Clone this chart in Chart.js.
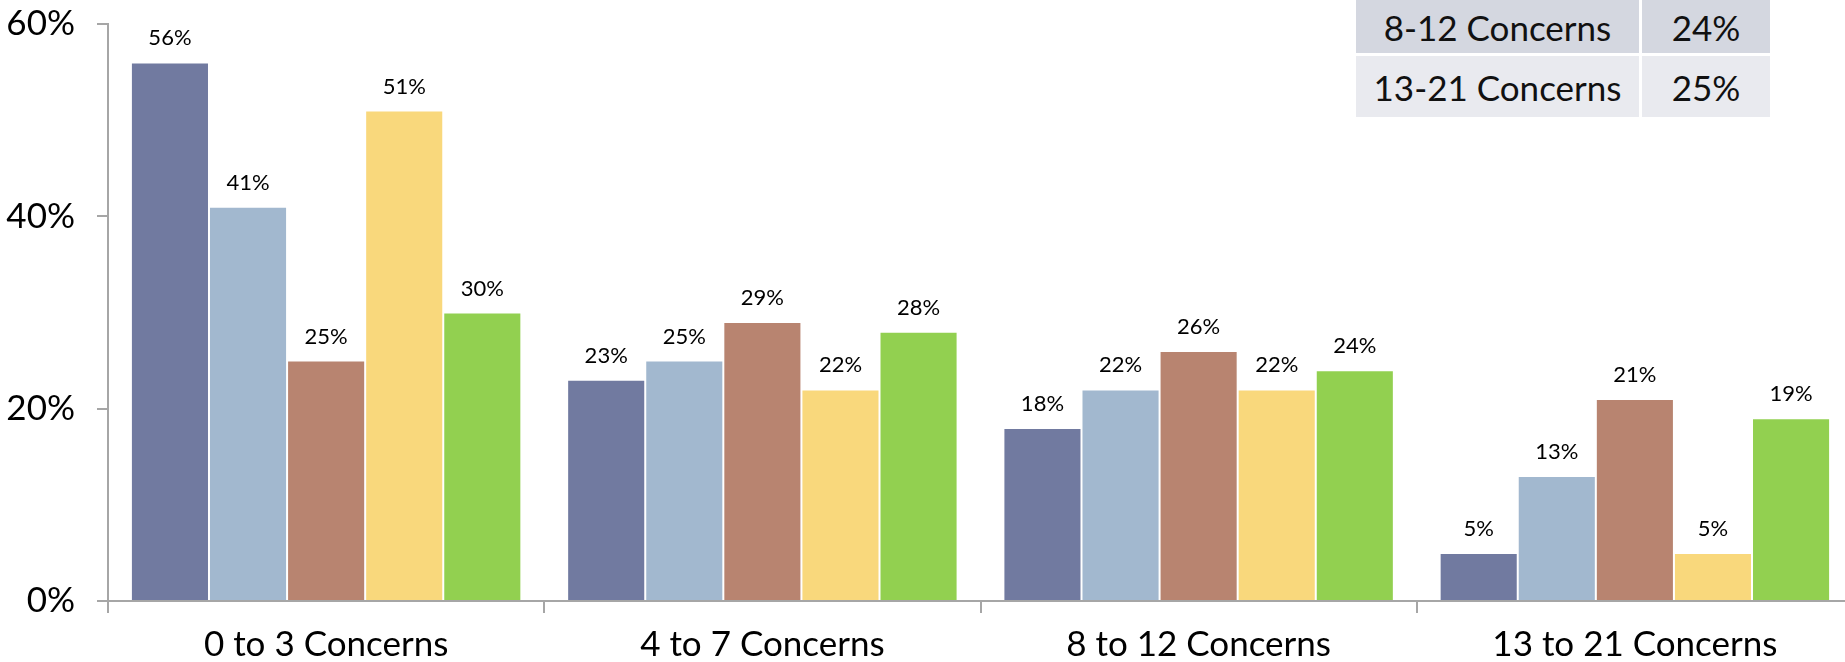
<!DOCTYPE html>
<html>
<head>
<meta charset="utf-8">
<script src="https://cdn.jsdelivr.net/npm/chart.js@4/dist/chart.umd.min.js"></script>
<style>
  html, body { margin: 0; padding: 0; background: #fff; overflow: hidden; }
  #wrap { position: relative; width: 1854px; height: 662px; }
  .cell {
    position: absolute;
    font-family: Lato, "Open Sans", sans-serif;
    font-size: 35px;
    color: #111;
    display: flex;
    align-items: center;
    justify-content: center;
  }
  .r1 { background: #d4d7e0; }
  .r2 { background: #e9eaef; }
</style>
</head>
<body>
<div id="wrap">
  <canvas id="myChart" width="1854" height="662"></canvas>
  <div id="tabla"></div>
</div>
<script>
// categorías y series
var categories = ["0 to 3 Concerns", "4 to 7 Concerns", "8 to 12 Concerns", "13 to 21 Concerns"];
var serie1 = [56, 23, 18, 5];
var serie2 = [41, 25, 22, 13];
var serie3 = [25, 29, 26, 21];
var serie4 = [51, 22, 22, 5];
var serie5 = [30, 28, 24, 19];
var yTicks = [0, 20, 40, 60];

// tabla de la esquina
var tablaLabels = ["8-12 Concerns", "13-21 Concerns"];
var tablaValues = ["24%", "25%"];

var colores = ["#717aa0", "#a2b8cf", "#b88470", "#f9d87c", "#92d050"];

// construir la tabla
var tabla = document.getElementById("tabla");
var filas = [{ top: 0, h: 53, cls: "r1" }, { top: 56, h: 61, cls: "r2" }];
filas.forEach(function (f, i) {
  var a = document.createElement("div");
  a.className = "cell " + f.cls;
  a.style.cssText = "left:1356px;top:" + f.top + "px;width:283px;height:" + f.h + "px;";
  a.textContent = tablaLabels[i];
  tabla.appendChild(a);
  var b = document.createElement("div");
  b.className = "cell " + f.cls;
  b.style.cssText = "left:1642px;top:" + f.top + "px;width:128px;height:" + f.h + "px;";
  b.textContent = tablaValues[i];
  tabla.appendChild(b);
});

// etiquetas encima de las barras
var etiquetas = {
  id: "etiquetas",
  afterDatasetsDraw: function (chart) {
    var ctx = chart.ctx;
    ctx.save();
    ctx.font = "22px Lato, 'Open Sans', sans-serif";
    ctx.fillStyle = "#000";
    ctx.textAlign = "center";
    ctx.textBaseline = "alphabetic";
    chart.data.datasets.forEach(function (ds, i) {
      chart.getDatasetMeta(i).data.forEach(function (bar, j) {
        ctx.fillText(ds.data[j] + "%", bar.x, bar.y - 17);
      });
    });
    ctx.restore();
  },
};

var datos = [serie1, serie2, serie3, serie4, serie5];
var ctx = document.getElementById("myChart").getContext("2d");
var myChart = new Chart(ctx, {
  type: "bar",
  data: {
    labels: categories,
    datasets: datos.map(function (d, i) {
      return {
        label: "Serie " + (i + 1),
        data: d,
        backgroundColor: colores[i],
        borderColor: "rgba(255,255,255,0.35)",
        borderWidth: 1,
        barPercentage: 1.0,
        categoryPercentage: 0.895,
      };
    }),
  },
  options: {
    responsive: false,
    animation: false,
    layout: { padding: { top: 24, left: 0, right: 1, bottom: 0 } },
    scales: {
      x: {
        grid: {
          offset: true,
          drawOnChartArea: false,
          tickLength: 12,
          color: "#a6a6a6",
          lineWidth: 2,
        },
        border: { color: "#a6a6a6", width: 2 },
        ticks: {
          color: "#000",
          padding: 11,
          font: { family: "Lato, 'Open Sans', sans-serif", size: 35 },
        },
        afterFit: function (scale) {
          scale.height = 61;
        },
      },
      y: {
        min: 0,
        max: 60,
        afterBuildTicks: function (scale) {
          scale.ticks = yTicks.map(function (v) { return { value: v }; });
        },
        grid: {
          drawOnChartArea: false,
          tickLength: 11,
          color: "#a6a6a6",
          lineWidth: 2,
        },
        border: { color: "#a6a6a6", width: 2 },
        ticks: {
          color: "#000",
          padding: 22,
          font: { family: "Lato, 'Open Sans', sans-serif", size: 35 },
          callback: function (v) { return v + "%"; },
        },
        afterFit: function (scale) {
          scale.width = 108;
          scale.paddingTop = 0;
          scale.paddingBottom = 0;
        },
      },
    },
    plugins: {
      legend: { display: false },
      tooltip: { enabled: false },
    },
  },
  plugins: [etiquetas],
});
</script>
</body>
</html>
